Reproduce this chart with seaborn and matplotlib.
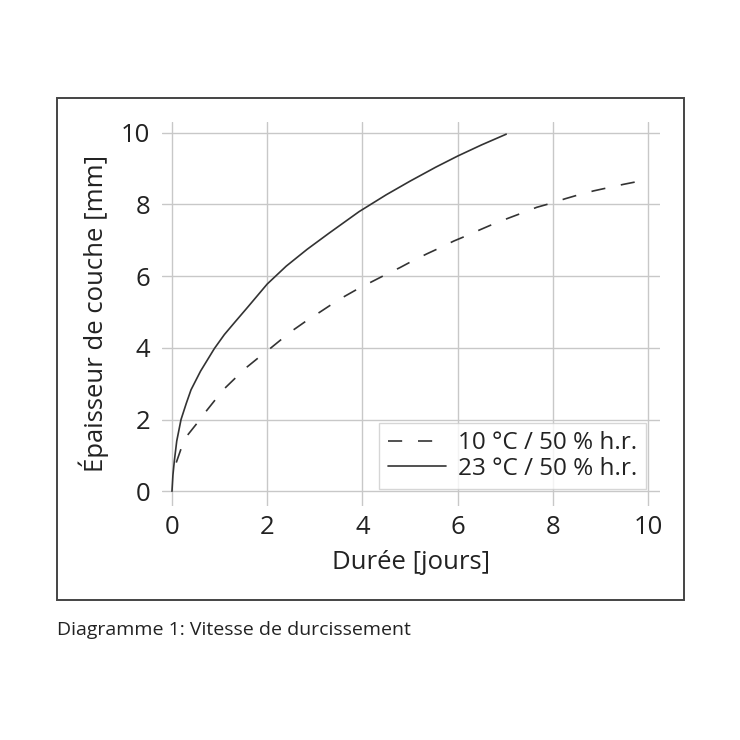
import pandas as pd
import matplotlib.pyplot as plt
import seaborn as sns
from matplotlib.patches import Rectangle

jours_10 = [0.09, 0.2, 0.33, 0.54, 0.71, 0.92, 1.13, 1.34, 1.58, 1.83, 2.07, 2.31, 2.55,
            2.83, 3.11, 3.35, 3.63, 3.91, 4.22, 4.47, 4.79, 5.03, 5.35, 5.61, 5.92, 6.19,
            6.48, 6.76, 7.07, 7.37, 7.66, 7.98, 8.26, 8.57, 8.86, 9.17, 9.48, 9.82]
epaisseur_10 = [0.8, 1.22, 1.57, 1.92, 2.22, 2.57, 2.9, 3.17, 3.47, 3.74, 3.99, 4.25, 4.5,
                4.76, 5.0, 5.21, 5.44, 5.65, 5.86, 6.03, 6.24, 6.41, 6.62, 6.78, 6.98, 7.13,
                7.3, 7.46, 7.62, 7.77, 7.92, 8.04, 8.16, 8.28, 8.38, 8.47, 8.56, 8.65]

jours_23 = [0.0, 0.02, 0.05, 0.1, 0.19, 0.3, 0.4, 0.6, 0.89, 1.1, 1.31, 1.6, 2.0, 2.4,
            2.84, 3.3, 3.93, 4.5, 5.0, 5.54, 6.0, 6.5, 7.02]
epaisseur_23 = [0.0, 0.45, 0.85, 1.4, 2.0, 2.45, 2.83, 3.35, 3.98, 4.37, 4.7, 5.15, 5.78,
                6.28, 6.75, 7.2, 7.8, 8.27, 8.65, 9.04, 9.35, 9.66, 9.96]

serie_10 = '10 °C / 50 % h.r.'
serie_23 = '23 °C / 50 % h.r.'

df = pd.concat([
    pd.DataFrame({'Durée': jours_10, 'Épaisseur': epaisseur_10, 'Série': serie_10}),
    pd.DataFrame({'Durée': jours_23, 'Épaisseur': epaisseur_23, 'Série': serie_23}),
])

sns.set_theme(style='whitegrid')
plt.rcParams['font.family'] = ['Open Sans', 'DejaVu Sans']

fig = plt.figure(figsize=(7.4, 7.4), dpi=100)
fig.patch.set_facecolor('white')

# cadre extérieur
fig.patches.append(Rectangle((57 / 740, 1 - 600 / 740), (684 - 57) / 740, (600 - 98) / 740,
                             transform=fig.transFigure, fill=False, edgecolor='#444444',
                             linewidth=1.4))

ax = fig.add_axes([161.5 / 740, 1 - 505.6 / 740, (660 - 161.5) / 740, (505.6 - 122) / 740])
ax.set_facecolor('white')

sns.lineplot(data=df, x='Durée', y='Épaisseur', style='Série',
             dashes={serie_10: (8.5, 9.5), serie_23: ''}, color='#333333', linewidth=1.2,
             sort=False, ax=ax)

ax.set_xlim(-0.22, 10.25)
ax.set_ylim(-0.4, 10.3)
ax.set_xticks(range(0, 11, 2))
ax.set_yticks(range(0, 11, 2))
ax.grid(True, color='#c8c8c8', linewidth=1.0)
for s in ax.spines.values():
    s.set_visible(False)
ax.tick_params(axis='both', length=0, labelsize=18.5, colors='#222222')
ax.tick_params(axis='x', pad=7)
ax.tick_params(axis='y', pad=8)

ax.set_xlabel('Durée [jours]', fontsize=18.5, color='#222222', labelpad=7)
ax.set_ylabel('Épaisseur de couche [mm]', fontsize=18.5, color='#222222', labelpad=9)

leg = ax.legend(loc='lower right', bbox_to_anchor=(0.972, 0.043), borderaxespad=0,
                fontsize=17.5, frameon=True, fancybox=False, title=None,
                handlelength=2.4, handletextpad=0.5, labelspacing=0.05,
                borderpad=0.35)
leg.get_frame().set_edgecolor('#cccccc')
leg.get_frame().set_linewidth(1.0)
for t in leg.get_texts():
    t.set_color('#222222')

fig.text(57 / 740, 1 - 630 / 740, 'Diagramme 1: Vitesse de durcissement',
         fontsize=14, color='#222222', va='center', ha='left')

plt.savefig('out.png', dpi=100)
plt.close()
